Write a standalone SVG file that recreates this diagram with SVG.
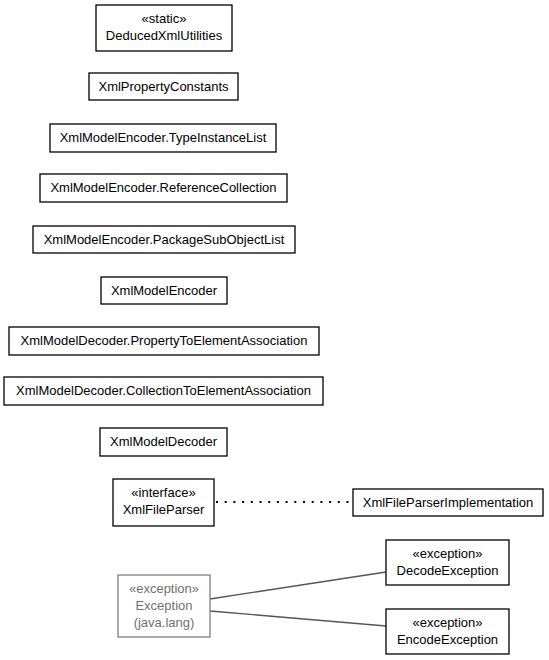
<svg xmlns="http://www.w3.org/2000/svg" width="549" height="660" viewBox="0 0 549 660">
<style>
.b{fill:#fff;stroke:#000;stroke-width:1.3}
.g{fill:#fff;stroke:#808080;stroke-width:1.3}
text{font-family:"Liberation Sans",Arial,sans-serif;font-size:13px;text-anchor:middle;fill:#000}
.gt{fill:#707070}
.c{stroke:#555;stroke-width:1.3;fill:none}
.d{stroke:#000;stroke-width:2;fill:none;stroke-dasharray:2,6.7}
</style>
<rect width="549" height="660" fill="#fff"/>
<g id="connectors">
<line class="d" x1="216" y1="502" x2="350" y2="502"/>
<line class="c" x1="210" y1="599" x2="386" y2="572"/>
<line class="c" x1="210" y1="611" x2="386" y2="626"/>
</g>
<g id="DeducedXmlUtilities"><rect class="b" x="96" y="5" width="136" height="46"/><text x="164" y="23">«static»</text><text x="164" y="40">DeducedXmlUtilities</text></g>
<g id="XmlPropertyConstants"><rect class="b" x="89" y="73" width="149" height="27"/><text x="163.5" y="91">XmlPropertyConstants</text></g>
<g id="TypeInstanceList"><rect class="b" x="50" y="124" width="226" height="28"/><text x="163" y="142">XmlModelEncoder.TypeInstanceList</text></g>
<g id="ReferenceCollection"><rect class="b" x="40" y="174" width="247" height="28"/><text x="163.5" y="192">XmlModelEncoder.ReferenceCollection</text></g>
<g id="PackageSubObjectList"><rect class="b" x="33" y="226" width="262" height="27"/><text x="164" y="244">XmlModelEncoder.PackageSubObjectList</text></g>
<g id="XmlModelEncoder"><rect class="b" x="101" y="277" width="126" height="27"/><text x="164" y="295">XmlModelEncoder</text></g>
<g id="PropertyToElementAssociation"><rect class="b" x="9" y="327" width="310" height="28"/><text x="164" y="345">XmlModelDecoder.PropertyToElementAssociation</text></g>
<g id="CollectionToElementAssociation"><rect class="b" x="4" y="377" width="319" height="28"/><text x="163.5" y="395">XmlModelDecoder.CollectionToElementAssociation</text></g>
<g id="XmlModelDecoder"><rect class="b" x="100" y="428" width="127" height="28"/><text x="163.5" y="446">XmlModelDecoder</text></g>
<g id="XmlFileParser"><rect class="b" x="113" y="479" width="101" height="47"/><text x="163.5" y="497">«interface»</text><text x="163.5" y="514">XmlFileParser</text></g>
<g id="XmlFileParserImplementation"><rect class="b" x="353" y="489" width="190" height="27"/><text x="448" y="507">XmlFileParserImplementation</text></g>
<g id="Exception"><rect class="g" x="118" y="575" width="92" height="62"/><text class="gt" x="164" y="593">«exception»</text><text class="gt" x="164" y="610">Exception</text><text class="gt" x="164" y="627">(java.lang)</text></g>
<g id="DecodeException"><rect class="b" x="386" y="540" width="123" height="45"/><text x="447.5" y="558">«exception»</text><text x="447.5" y="575">DecodeException</text></g>
<g id="EncodeException"><rect class="b" x="386" y="609" width="123" height="45"/><text x="447.5" y="627">«exception»</text><text x="447.5" y="644">EncodeException</text></g>
</svg>
